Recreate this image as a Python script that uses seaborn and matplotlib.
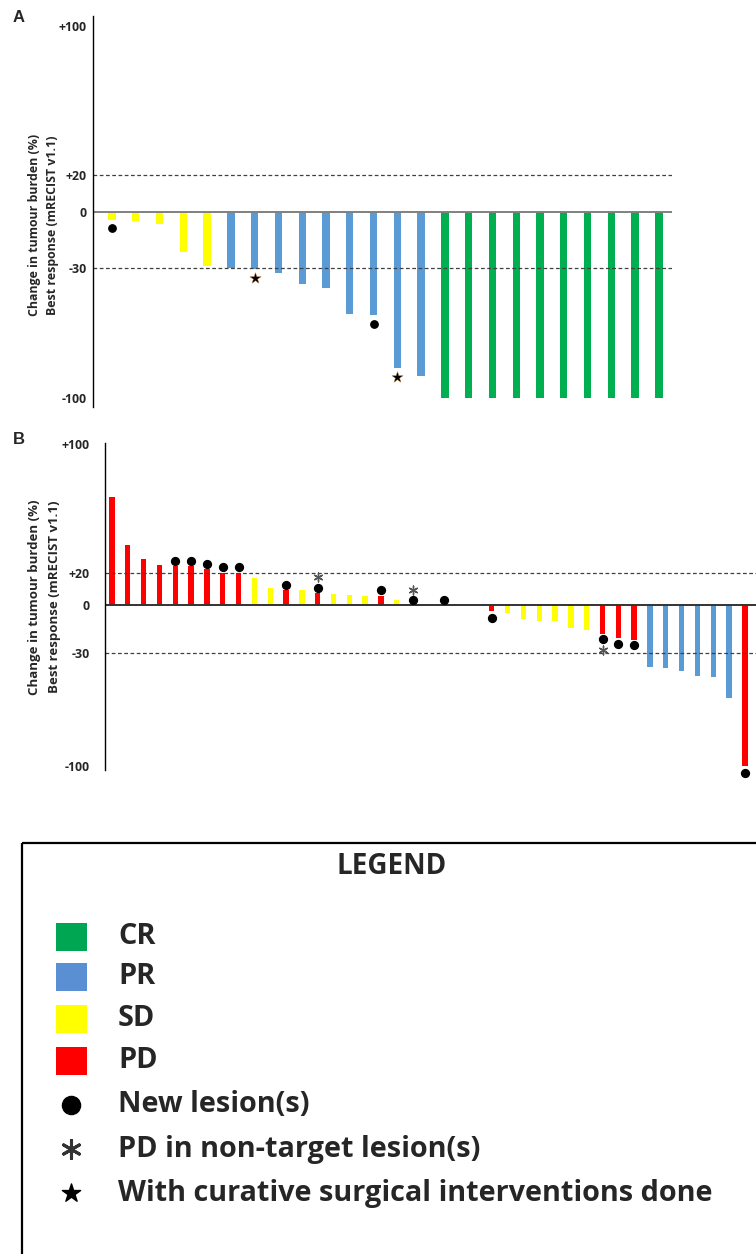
import matplotlib
matplotlib.use("Agg")
import pandas as pd
import matplotlib.pyplot as plt
import seaborn as sns
from matplotlib.patches import Rectangle

# -----------------------------------------------------------------------------
# Data (best % change in tumour burden, one bar per patient)
# -----------------------------------------------------------------------------
a_change = [-4.3, -4.8, -6.6, -21.4, -29.0,
            -30.2, -30.7, -32.5, -38.9, -40.7, -54.8, -55.5, -83.9, -88.4,
            -100, -100, -100, -100, -100, -100, -100, -100, -100, -100]
a_status = ["SD", "SD", "SD", "SD", "SD",
            "PR", "PR", "PR", "PR", "PR", "PR", "PR", "PR", "PR",
            "CR", "CR", "CR", "CR", "CR", "CR", "CR", "CR", "CR", "CR"]
a_new_idx = [0, 11]
a_new_y = [-8.8, -60.0]
a_surg_idx = [6, 12]
a_surg_y = [-35.5, -88.8]

b_change = [67.0, 37.5, 28.8, 24.6, 24.2, 24.2, 22.3, 20.0, 20.0,
            17.0, 10.6, 9.6, 9.0, 7.3, 7.0, 6.0, 5.4, 5.6, 3.3,
            0, 0, 0, 0, 0,
            -3.5, -5.2, -8.8, -10.0, -10.0, -14.0, -15.6,
            -17.9, -20.8, -21.9,
            -38.3, -39.0, -41.3, -44.2, -44.8, -57.5, -100.0]
b_status = ["PD", "PD", "PD", "PD", "PD", "PD", "PD", "PD", "PD",
            "SD", "SD", "PD", "SD", "PD", "SD", "SD", "SD", "PD", "SD",
            "PD", "SD", "PD", "SD", "SD",
            "PD", "SD", "SD", "SD", "SD", "SD", "SD",
            "PD", "PD", "PD",
            "PR", "PR", "PR", "PR", "PR", "PR", "PD"]
b_new_idx = [4, 5, 6, 7, 8, 11, 13, 17, 19, 21, 24, 31, 32, 33, 40]
b_new_y = [27.5, 27.5, 25.6, 23.5, 23.5, 12.7, 10.4, 9.2, 3.1, 3.1,
           -7.9, -21.4, -24.3, -24.9, -104.6]
b_ntl_idx = [13, 19, 31]
b_ntl_y = [17.3, 9.4, -27.9]

tick_vals = [100, 20, 0, -30, -100]
tick_labels = ["+100", "+20", "0", "-30", "-100"]
ylabel_lines = ["Change in tumour burden (%)", "Best response (mRECIST v1.1)"]

palette = {"CR": "#00B050", "PR": "#5B9BD5", "SD": "#FFFF00", "PD": "#FF0000"}
legend_labels = ["CR", "PR", "SD", "PD", "New lesion(s)",
                 "PD in non-target lesion(s)",
                 "With curative surgical interventions done"]
legend_colors = ["#00A651", "#5B8FD3", "#FFFF00", "#FF0000"]

# -----------------------------------------------------------------------------
# Figure
# -----------------------------------------------------------------------------
sns.set_style("white")
plt.rcParams["font.family"] = ["Open Sans", "DejaVu Sans"]

W, H = 756, 1254
fig = plt.figure(figsize=(W / 100, H / 100), dpi=100)


def px_axes(x0, y0, x1, y1):
    return fig.add_axes([x0 / W, 1 - y1 / H, (x1 - x0) / W, (y1 - y0) / H])


def waterfall(ax, change, status, width, xlim, ylim, zero_color, pad):
    df = pd.DataFrame({"patient": range(len(change)), "change": change,
                       "status": status})
    sns.barplot(data=df, x="patient", y="change", hue="status",
                palette=palette, dodge=False, width=width, linewidth=0,
                saturation=1, errorbar=None, legend=False, ax=ax)
    ax.axhline(0, color=zero_color, lw=1.4, zorder=1)
    for lvl in (20, -30):
        ax.axhline(lvl, color="#404040", lw=0.9, ls=(0, (3, 2)), zorder=1)
    ax.set_xlim(*xlim)
    ax.set_ylim(*ylim)
    ax.set_xticks([])
    ax.set_xlabel("")
    ax.set_ylabel("")
    ax.set_yticks(tick_vals)
    ax.set_yticklabels(tick_labels, fontsize=8.8, fontweight="bold")
    ax.tick_params(axis="y", length=0, pad=pad)
    for s in ("top", "right", "bottom"):
        ax.spines[s].set_visible(False)
    ax.spines["left"].set_color("black")
    ax.spines["left"].set_linewidth(1.0)


# Panel A
ax_a = px_axes(93, 16, 672, 407)
waterfall(ax_a, a_change, a_status, 0.31, (-0.8, 23.55), (-104.8, 105.4),
          "#808080", 4.5)
ax_a.scatter(a_new_idx, a_new_y, s=28, color="black", zorder=3, clip_on=False)
ax_a.scatter(a_surg_idx, a_surg_y, s=70, marker="*", color="black",
             edgecolors="#b07030", linewidths=0.3, zorder=3, clip_on=False)

# Panel B
ax_b = px_axes(105, 443, 756, 770)
waterfall(ax_b, b_change, b_status, 0.34, (-0.44, 40.7), (-102.5, 100.6),
          "#333333", 11)
ax_b.scatter(b_new_idx, b_new_y, s=32, color="black", zorder=3, clip_on=False)
ax_b.scatter(b_ntl_idx, b_ntl_y, s=40, marker=(6, 2, 0), color="#555555",
             linewidths=1.0, zorder=3, clip_on=False)

# Axis titles and panel letters
for (x1, x2, yc, fs) in [(35, 53, 225, 8.9), (35, 55, 597, 9.5)]:
    fig.text(x1 / W, 1 - yc / H, ylabel_lines[0], rotation=90, ha="center",
             va="center", fontsize=fs, fontweight="bold")
    fig.text(x2 / W, 1 - yc / H, ylabel_lines[1], rotation=90, ha="center",
             va="center", fontsize=fs, fontweight="bold")
fig.text(19 / W, 1 - 18 / H, "A", ha="center", va="center", fontsize=12,
         fontweight="bold", family="Liberation Sans")
fig.text(19 / W, 1 - 439 / H, "B", ha="center", va="center", fontsize=12,
         fontweight="bold", family="Liberation Sans")

# -----------------------------------------------------------------------------
# Legend box (drawn in pixel coordinates)
# -----------------------------------------------------------------------------
ax_l = px_axes(0, 820, W, H)
ax_l.set_xlim(0, W)
ax_l.set_ylim(H, 820)
ax_l.axis("off")
ax_l.add_patch(Rectangle((22, 843), 800, 500, fill=False, lw=1.6,
                         edgecolor="black", clip_on=False))
ax_l.text(392, 866, "LEGEND", ha="center", va="center", fontsize=20,
          fontweight="bold")
rows = [937, 977, 1019, 1061, 1105, 1149, 1193]
for lab, col, y in zip(legend_labels[:4], legend_colors, rows[:4]):
    ax_l.add_patch(Rectangle((56, y - 14), 31, 28, color=col, lw=0))
ax_l.scatter([71], [rows[4]], s=170, color="black")
ax_l.scatter([71], [rows[5]], s=170, marker=(6, 2, 0), color="#333333",
             linewidths=2.2)
ax_l.scatter([71], [rows[6]], s=190, marker="*", color="black")
for lab, y in zip(legend_labels, rows):
    ax_l.text(118, y, lab, ha="left", va="center", fontsize=20.8,
              fontweight="bold")

fig.savefig("out.png", dpi=100)
